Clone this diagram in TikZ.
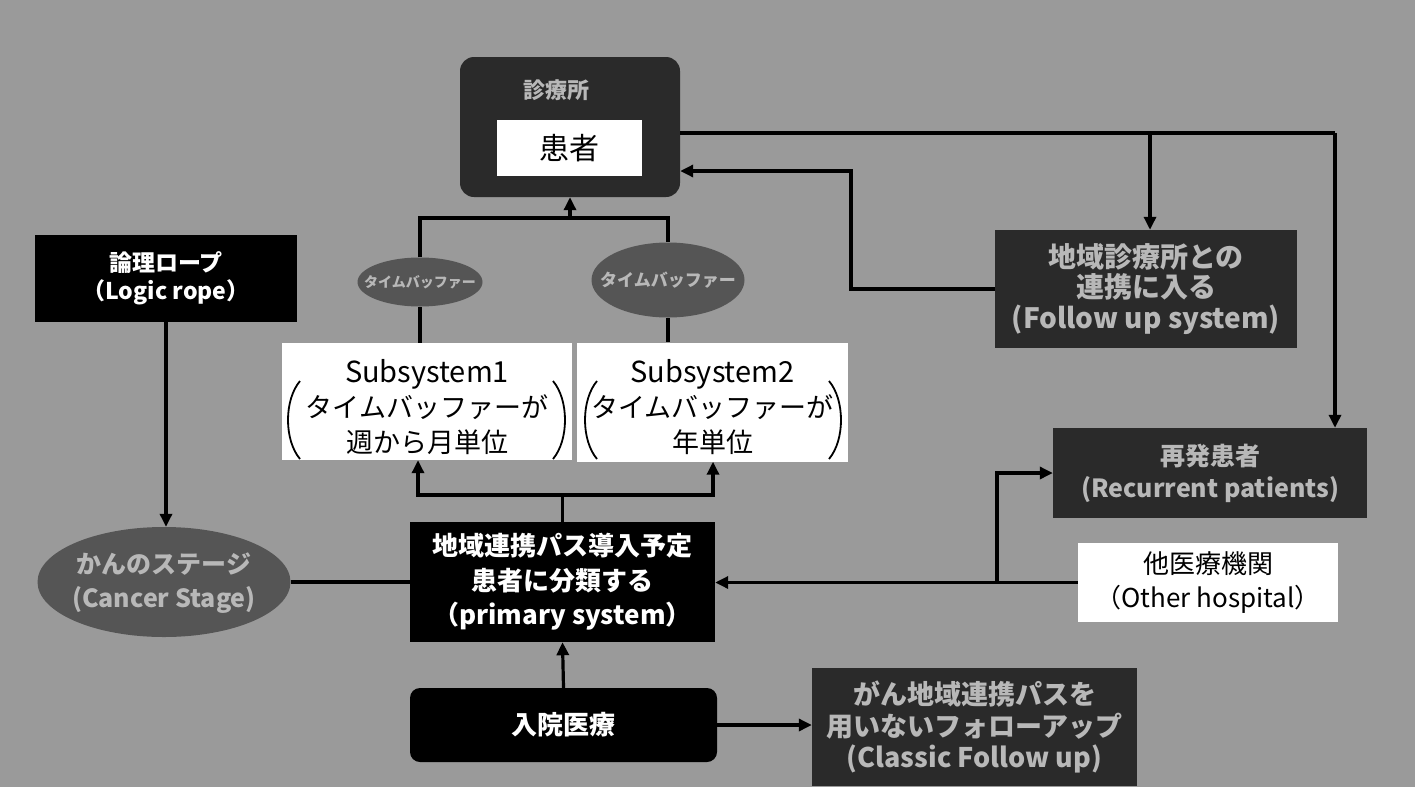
\documentclass[tikz,border=0pt]{standalone}
\usepackage{fontspec}
\newfontfamily\jp{Noto Sans CJK JP}
\usetikzlibrary{arrows.meta,shapes.geometric}
\definecolor{bgc}{HTML}{9A9A9A}
\definecolor{darkc}{HTML}{2A2A2A}
\definecolor{ellc}{HTML}{555555}
\definecolor{hollow}{HTML}{B8B8B8}
\newcommand\fs[2]{\fontsize{#1pt}{#2pt}\selectfont}
\begin{document}
\begin{tikzpicture}[x=1pt,y=-1pt,
  conn/.style={line width=3.2pt, draw=black},
  arr/.style={conn, -{Triangle[length=13pt,width=12pt]}},
  whitebox/.style={rectangle, fill=white, inner sep=0pt, align=center, text=black},
  blackbox/.style={rectangle, fill=black, inner sep=0pt, align=center, text=white},
  darkbox/.style={rectangle, fill=darkc, inner sep=0pt, align=center, text=hollow},
  ellbox/.style={ellipse, fill=ellc, inner sep=0pt},
  lbl/.style={inner sep=0pt, align=center},
  paren/.style={line width=1.8pt, draw=black},
]
\useasboundingbox (0,0) rectangle (1415,787);
\fill[bgc] (0,0) rectangle (1415,787);

% clinic
\node[darkbox, rounded corners=14pt, minimum width=220pt, minimum height=140pt] (clinic) at (570,127) {};
\node[lbl, text=hollow, font=\jp\bfseries\fs{22}{26}] (clinictitle) at (556,90) {診療所};
\node[whitebox, minimum width=145pt, minimum height=56pt, font=\jp\fs{30}{34}] (patient) at (569.5,148) {患者};

% time buffers
\node[ellbox, minimum width=125pt, minimum height=49pt] (buf1) at (420,282) {};
\node[lbl, text=hollow, font=\jp\bfseries\fs{14}{16}] (buf1t) at (420,282) {タイムバッファー};
\node[ellbox, minimum width=153pt, minimum height=75pt] (buf2) at (668,280) {};
\node[lbl, text=hollow, font=\jp\bfseries\fs{17}{20}] (buf2t) at (668,280) {タイムバッファー};

% subsystems
\node[whitebox, minimum width=290pt, minimum height=117pt] (sub1) at (427,401.5) {};
\node[lbl, font=\jp\fs{27}{35}] (sub1t) at (427,407) {\fs{29}{35}Subsystem1\\タイムバッファーが\\週から月単位};
\node[whitebox, minimum width=271pt, minimum height=119pt] (sub2) at (712.5,402) {};
\node[lbl, font=\jp\fs{27}{35}] (sub2t) at (712.5,407) {\fs{29}{35}Subsystem2\\タイムバッファーが\\年単位};
\draw[paren] (300,381) .. controls (284,400) and (284,440) .. (300,459);
\draw[paren] (553,381) .. controls (569,400) and (569,440) .. (553,459);
\draw[paren] (597,381) .. controls (581,400) and (581,440) .. (597,459);
\draw[paren] (829,381) .. controls (845,400) and (845,440) .. (829,459);

% logic rope and cancer stage
\node[blackbox, minimum width=262pt, minimum height=87pt, font=\jp\bfseries\fs{23}{28}] (logic) at (166,278.5) {論理ロープ\\（Logic rope）};
\node[ellbox, minimum width=253pt, minimum height=110pt] (stage) at (164,582) {};
\node[lbl, text=hollow, font=\jp\bfseries\fs{25}{34}] (staget) at (164,583) {かんのステージ\\(Cancer Stage)};

% primary system and inpatient
\node[blackbox, minimum width=305pt, minimum height=120pt, font=\jp\bfseries\fs{26}{34.5}] (primary) at (562.5,582) {地域連携パス導入予定\\患者に分類する\\（primary system）};
\node[blackbox, rounded corners=10pt, minimum width=307pt, minimum height=74pt, font=\jp\bfseries\fs{26}{30}] (inpatient) at (563.5,725) {入院医療};
\node[darkbox, minimum width=325pt, minimum height=118pt, font=\jp\bfseries\fs{27}{31.5}] (classic) at (974.5,727) {がん地域連携パスを\\用いないフォローアップ\\(Classic Follow up)};

% right side
\node[darkbox, minimum width=302pt, minimum height=118pt, font=\jp\bfseries\fs{28}{30.5}] (followup) at (1146,289) {地域診療所との\\連携に入る\\(Follow up system)};
\node[darkbox, minimum width=314pt, minimum height=90pt, font=\jp\bfseries\fs{25}{32}] (recurrent) at (1210,473) {再発患者\\(Recurrent patients)};
\node[whitebox, minimum width=260pt, minimum height=79pt, font=\jp\fs{26}{34}] (other) at (1208,582.5) {他医療機関\\（Other hospital）};

% connectors
\draw[arr] (logic.south) -- (logic.south |- stage.north);
\draw[conn] (stage.east) -- (stage.east -| primary.west);
\draw[arr] (inpatient.north) -- (primary.south);
\draw[arr] (inpatient.east) -- (inpatient.east -| classic.west);

\coordinate (jl) at (418,495);
\coordinate (jr) at (713,495);
\draw[conn] (primary.north) -- (primary.north |- jl);
\draw[arr] (primary.north |- jl) -- (jl) -- (jl |- sub1.south);
\draw[arr] (primary.north |- jr) -- (jr) -- (jr |- sub2.south);

\coordinate (tl) at (420,218);
\coordinate (tr) at (668,218);
\draw[conn] (buf1.south) -- (buf1.south |- sub1.north);
\draw[conn] (buf2.south) -- (buf2.south |- sub2.north);
\draw[conn] (buf1.north) -- (tl) -- (tr) -- (buf2.north);
\draw[arr] (clinic.south |- tl) -- (clinic.south);

\coordinate (t1) at (1150,133);
\coordinate (t2) at (1335,133);
\draw[conn] (clinic.east |- t1) -- (t2);
\draw[arr] (t1) -- (t1 |- followup.north);
\draw[arr] (t2) -- (t2 |- recurrent.north);

\coordinate (bk) at (851,171);
\draw[arr] (followup.west) -| (bk) -- (bk -| clinic.east);

\coordinate (ob) at (997,0);
\draw[arr] (other.west) -- (other.west -| primary.east);
\draw[arr] (ob |- other.west) |- (recurrent.west);
\end{tikzpicture}
\end{document}
